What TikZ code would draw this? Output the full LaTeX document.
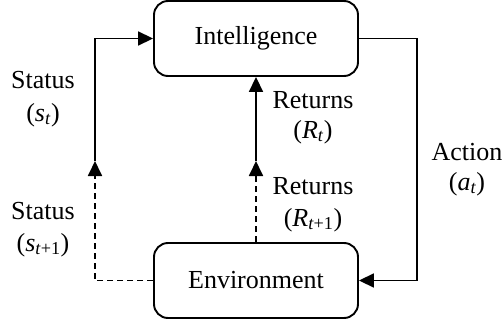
\documentclass[tikz,border=0pt]{standalone}
\usepackage{fontspec}
\setmainfont{Liberation Serif}
\usetikzlibrary{arrows.meta}
\begin{document}
\begin{tikzpicture}[x=1pt,y=-1pt,
  box/.style={draw, line width=1.9pt, rounded corners=14pt, minimum width=204pt, minimum height=75pt, inner sep=0pt, font=\fontsize{26}{31}\selectfont},
  conn/.style={line width=1.8pt, -{Triangle[length=15pt,width=14pt]}},
  dconn/.style={conn, dash pattern=on 6pt off 4pt},
  lbl/.style={anchor=base, inner sep=0pt, font=\fontsize{26}{31}\selectfont}]
\useasboundingbox (0,0) rectangle (504,324);
\node[box] (int) at (256,38.5) {Intelligence};
\node[box] (env) at (256,280.5) {Environment};
\coordinate (ls) at (95,161);
\coordinate (ms) at (256,161);
\coordinate (ar) at (417,280.5);
\draw[conn] (ls) |- (int.west);
\draw[dconn] (env.west) -| (ls);
\draw[conn] (ms) -- (int.south);
\draw[dconn] (env.north) -- (ms);
\draw[conn] (int.east) -| (ar) -- (env.east);
\node[lbl] (st1) at (43,88) {Status};
\node[lbl] (st2) at (43,121) {(\textit{s}\textsubscript{\textit{t}})};
\node[lbl] (sn1) at (43,219) {Status};
\node[lbl] (sn2) at (43,251) {(\textit{s}\textsubscript{\textit{t}+1})};
\node[lbl] (rt1) at (313,108) {Returns};
\node[lbl] (rt2) at (313,138) {(\textit{R}\textsubscript{\textit{t}})};
\node[lbl] (rn1) at (313,194) {Returns};
\node[lbl] (rn2) at (313,226) {(\textit{R}\textsubscript{\textit{t}+1})};
\node[lbl] (ac1) at (467,160) {Action};
\node[lbl] (ac2) at (467,190) {(\textit{a}\textsubscript{\textit{t}})};
\end{tikzpicture}
\end{document}
